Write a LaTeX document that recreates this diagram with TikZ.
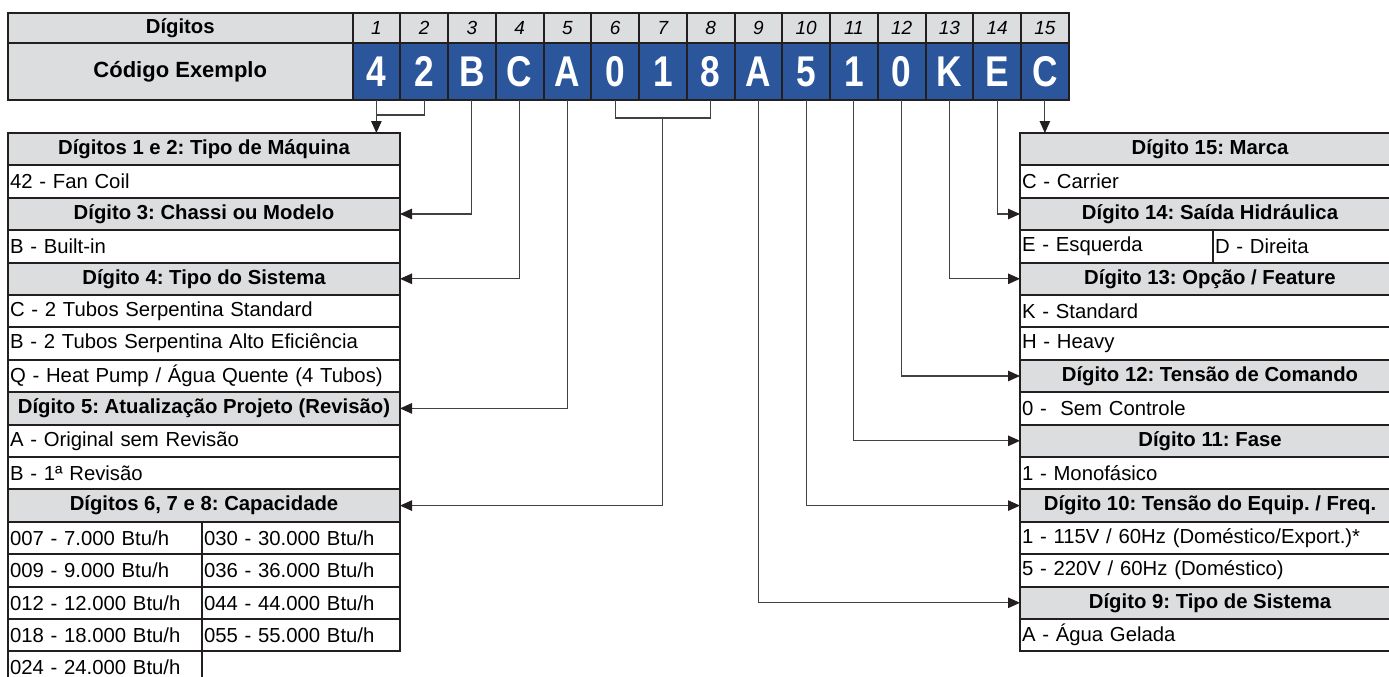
\documentclass[tikz,border=0pt]{standalone}
\usepackage{fontspec}
\setmainfont{Liberation Sans}
\usepackage{graphicx}
\usetikzlibrary{arrows.meta}
\definecolor{hdrgray}{RGB}{220,221,223}
\definecolor{codeblue}{RGB}{43,86,155}
\definecolor{tline}{RGB}{35,31,32}
\definecolor{conngray}{RGB}{65,65,65}
\newcommand\txtsize{\fontsize{20.3}{24}\selectfont}
\frenchspacing
\begin{document}
\begin{tikzpicture}[x=1pt,y=-1pt,
  cell/.style={draw=tline,line width=2pt,anchor=north west,outer sep=0pt,inner xsep=2pt,inner ysep=0pt,font=\txtsize},
  head/.style={cell,fill=hdrgray,minimum height=32.4pt,minimum width=#1,font=\txtsize\bfseries},
  item/.style={cell,minimum height=32.4pt,align=left,text width=#1},
  conn/.style={draw=conngray,line width=1.1pt},
  arr/.style={conn,-{Triangle[length=12pt,width=10.5pt,color=tline]}}]
\useasboundingbox (0,0) rectangle (1389,677);
% code header
\node[cell,fill=hdrgray,minimum width=344.5pt,minimum height=30pt,font=\txtsize\bfseries] (dig) at (8,13) {Dígitos};
\node[cell,fill=hdrgray,minimum width=344.5pt,minimum height=57pt,font=\fontsize{22}{26}\selectfont\bfseries] (cod) at (8,43) {Código Exemplo};
\foreach \ch [count=\i] in {4,2,B,C,A,0,1,8,A,5,1,0,K,E,C}{
  \node[cell,fill=hdrgray,minimum width=47.75pt,minimum height=30pt,font=\fontsize{19}{22}\selectfont\itshape] (d\i) at ({352.5+(\i-1)*47.75},13) {\i};
  \node[cell,fill=codeblue,text=white,minimum width=47.75pt,minimum height=57pt,font=\fontsize{43}{46}\selectfont\bfseries] (c\i) at ({352.5+(\i-1)*47.75},43) {\scalebox{0.82}[1]{\ch}};
}
% left table
\node[head=392pt] (tmaq) at (8,133) {Dígitos 1 e 2: Tipo de Máquina};
\node[item=388pt] (fancoil) at (8,165.4) {42 - Fan Coil};
\node[head=392pt] (tchassi) at (8,197.8) {Dígito 3: Chassi ou Modelo};
\node[item=388pt] (builtin) at (8,230.2) {B - Built-in};
\node[head=392pt] (tsis) at (8,262.6) {Dígito 4: Tipo do Sistema};
\node[item=388pt] (sisc) at (8,295) {C - 2 Tubos Serpentina Standard};
\node[item=388pt] (sisb) at (8,327.4) {B - 2 Tubos Serpentina Alto Eficiência};
\node[item=388pt] (sisq) at (8,359.8) {Q - Heat Pump / Água Quente (4 Tubos)};
\node[head=392pt] (trev) at (8,392.2) {Dígito 5: Atualização Projeto (Revisão)};
\node[item=388pt] (reva) at (8,424.6) {A - Original sem Revisão};
\node[item=388pt] (revb) at (8,457) {B - 1ª Revisão};
\node[head=392pt] (tcap) at (8,489.4) {Dígitos 6, 7 e 8: Capacidade};
\node[item=190pt] (cap07) at (8,521.8) {007 - 7.000 Btu/h};
\node[item=194pt] (cap30) at (202,521.8) {030 - 30.000 Btu/h};
\node[item=190pt] (cap09) at (8,554.2) {009 - 9.000 Btu/h};
\node[item=194pt] (cap36) at (202,554.2) {036 - 36.000 Btu/h};
\node[item=190pt] (cap12) at (8,586.6) {012 - 12.000 Btu/h};
\node[item=194pt] (cap44) at (202,586.6) {044 - 44.000 Btu/h};
\node[item=190pt] (cap18) at (8,619) {018 - 18.000 Btu/h};
\node[item=194pt] (cap55) at (202,619) {055 - 55.000 Btu/h};
\node[item=190pt] (cap24) at (8,651.4) {024 - 24.000 Btu/h};
% right table
\node[head=380pt] (tmarca) at (1020,133) {Dígito 15: Marca};
\node[item=376pt] (carrier) at (1020,165.4) {C - Carrier};
\node[head=380pt] (tsaida) at (1020,197.8) {Dígito 14: Saída Hidráulica};
\node[item=189pt] (esq) at (1020,230.2) {E - Esquerda};
\node[item=183pt] (dir) at (1213,230.2) {D - Direita};
\node[head=380pt] (topcao) at (1020,262.6) {Dígito 13: Opção / Feature};
\node[item=376pt] (stdk) at (1020,295) {K - Standard};
\node[item=376pt] (heavy) at (1020,327.4) {H - Heavy};
\node[head=380pt] (tcmd) at (1020,359.8) {Dígito 12: Tensão de Comando};
\node[item=376pt] (semctl) at (1020,392.2) {0 -\ \ Sem Controle};
\node[head=380pt] (tfase) at (1020,424.6) {Dígito 11: Fase};
\node[item=376pt] (mono) at (1020,457) {1 - Monofásico};
\node[head=380pt] (ttensao) at (1020,489.4) {Dígito 10: Tensão do Equip. / Freq.};
\node[item=376pt] (v115) at (1020,521.8) {1 - 115V / 60Hz (Doméstico/Export.)*};
\node[item=376pt] (v220) at (1020,554.2) {5 - 220V / 60Hz (Doméstico)};
\node[head=380pt] (ttipo) at (1020,586.6) {Dígito 9: Tipo de Sistema};
\node[item=376pt] (gelada) at (1020,619) {A - Água Gelada};
% connectors
\draw[arr] (c1.south) -- (c1.south |- tmaq.north);
\draw[conn] (c2.south) |- ([yshift=-15pt]c1.south);
\draw[arr] (c3.south) |- (tchassi.east);
\draw[arr] (c4.south) |- (tsis.east);
\draw[arr] (c5.south) |- (trev.east);
\draw[conn] (c6.south) |- ([yshift=-18pt]c8.south) -- (c8.south);
\draw[arr] ([yshift=-18pt]c7.south) |- (tcap.east);
\draw[arr] (c9.south) |- (ttipo.west);
\draw[arr] (c10.south) |- (ttensao.west);
\draw[arr] (c11.south) |- (tfase.west);
\draw[arr] (c12.south) |- (tcmd.west);
\draw[arr] (c13.south) |- (topcao.west);
\draw[arr] (c14.south) |- (tsaida.west);
\draw[arr] (c15.south) -- (c15.south |- tmarca.north);
\end{tikzpicture}
\end{document}
